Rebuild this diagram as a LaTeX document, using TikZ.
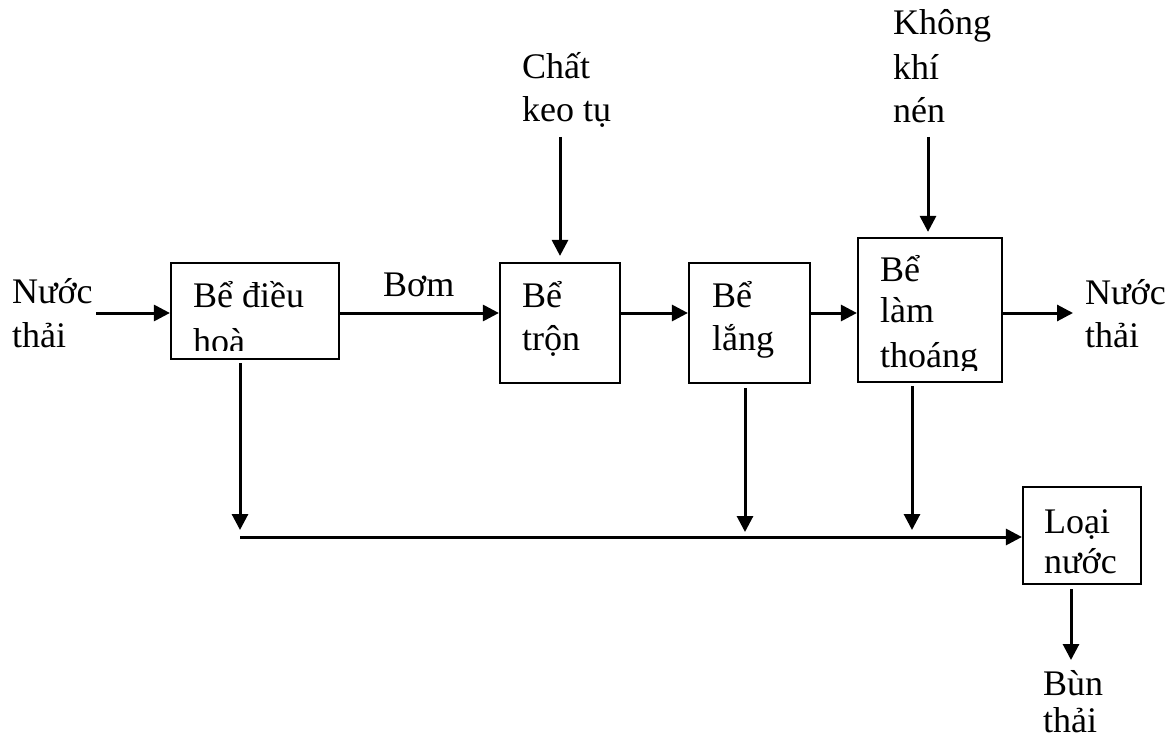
\documentclass[tikz,border=0pt]{standalone}
\usepackage{fontspec}
\setmainfont{Liberation Serif}
\usetikzlibrary{arrows.meta}

\begin{document}
\begin{tikzpicture}[x=1pt,y=-1pt,
  box/.style={draw, line width=2.2pt, inner sep=0pt},
  lbl/.style={anchor=base west, inner sep=0pt, text depth=0pt, font=\fontsize{36}{44}\selectfont},
  arr/.style={line width=3pt, -{Triangle[length=16pt,width=16pt]}},
  ln/.style={line width=3pt}]
\useasboundingbox (0,0) rectangle (1176,738);

% tanks
\node[box, minimum width=168pt, minimum height=96pt]  (b1) at (255,311)   {};
\node[box, minimum width=120pt, minimum height=120pt] (b2) at (560,323)   {};
\node[box, minimum width=121pt, minimum height=120pt] (b3) at (749.5,323) {};
\node[box, minimum width=144pt, minimum height=144pt] (b4) at (930,310)   {};
\node[box, minimum width=118pt, minimum height=97pt]  (b5) at (1082,535.5) {};

% reference points of the flow lines
\coordinate (inL)  at (96,313);
\coordinate (outR) at (1073,313);
\coordinate (kt)   at (560,137);
\coordinate (kk)   at (928,137);
\coordinate (col)  at (240,537);
\coordinate (j3)   at (745,537);
\coordinate (j4)   at (912,537);
\coordinate (sl)   at (1071,660);

% main line
\draw[arr] (inL) -- (b1.west |- inL);
\draw[arr] (b1.east |- inL) -- (b2.west |- inL);
\draw[arr] (b2.east |- inL) -- (b3.west |- inL);
\draw[arr] (b3.east |- inL) -- (b4.west |- inL);
\draw[arr] (b4.east |- inL) -- (outR);

% dosing from above
\draw[arr, shorten >=6pt] (kt) -- (b2.north);
\draw[arr, shorten >=5pt] (kk) -- (b4.north -| kk);

% sludge lines
\draw[arr, shorten <=3pt, shorten >=7pt] (b1.south -| col) -- (col);
\draw[arr, shorten <=4pt, shorten >=5pt] (b3.south -| j3) -- (j3);
\draw[arr, shorten <=3pt, shorten >=7pt] (b4.south -| j4) -- (j4);
\draw[arr] (col) -- (b5.west |- col);
\draw[arr, shorten <=4pt] (b5.south -| sl) -- (sl);

% labels
\node[lbl] (t1a) at (12,303) {Nước};
\node[lbl] (t1b) at (12,347) {thải};

\node[lbl] (t2a) at (193,308) {Bể điều};
\begin{scope}
  \clip (171,263) rectangle (339,350);
  \node[lbl] (t2b) at (193,353) {hoà};
\end{scope}

\node[lbl] (t3) at (383,297) {Bơm};

\node[lbl] (t4a) at (522,308) {Bể};
\node[lbl] (t4b) at (522,350) {trộn};

\node[lbl] (t5a) at (712,307) {Bể};
\node[lbl] (t5b) at (712,350) {lắng};

\node[lbl] (t6a) at (880,282) {Bể};
\node[lbl] (t6b) at (880,323) {làm};
\begin{scope}
  \clip (858,238) rectangle (1002,370);
  \node[lbl] (t6c) at (880,367) {thoáng};
\end{scope}

\node[lbl] (t7a) at (1085,305) {Nước};
\node[lbl] (t7b) at (1085,347) {thải};

\node[lbl] (t8a) at (522,79)  {Chất};
\node[lbl] (t8b) at (522,122) {keo tụ};

\node[lbl] (t9a) at (893,35)  {Không};
\node[lbl] (t9b) at (893,80)  {khí};
\node[lbl] (t9c) at (893,123) {nén};

\node[lbl] (t10a) at (1044,533) {Loại};
\node[lbl] (t10b) at (1044,573) {nước};

\node[lbl] (t11a) at (1043,695) {Bùn};
\node[lbl] (t11b) at (1043,732) {thải};
\end{tikzpicture}
\end{document}
